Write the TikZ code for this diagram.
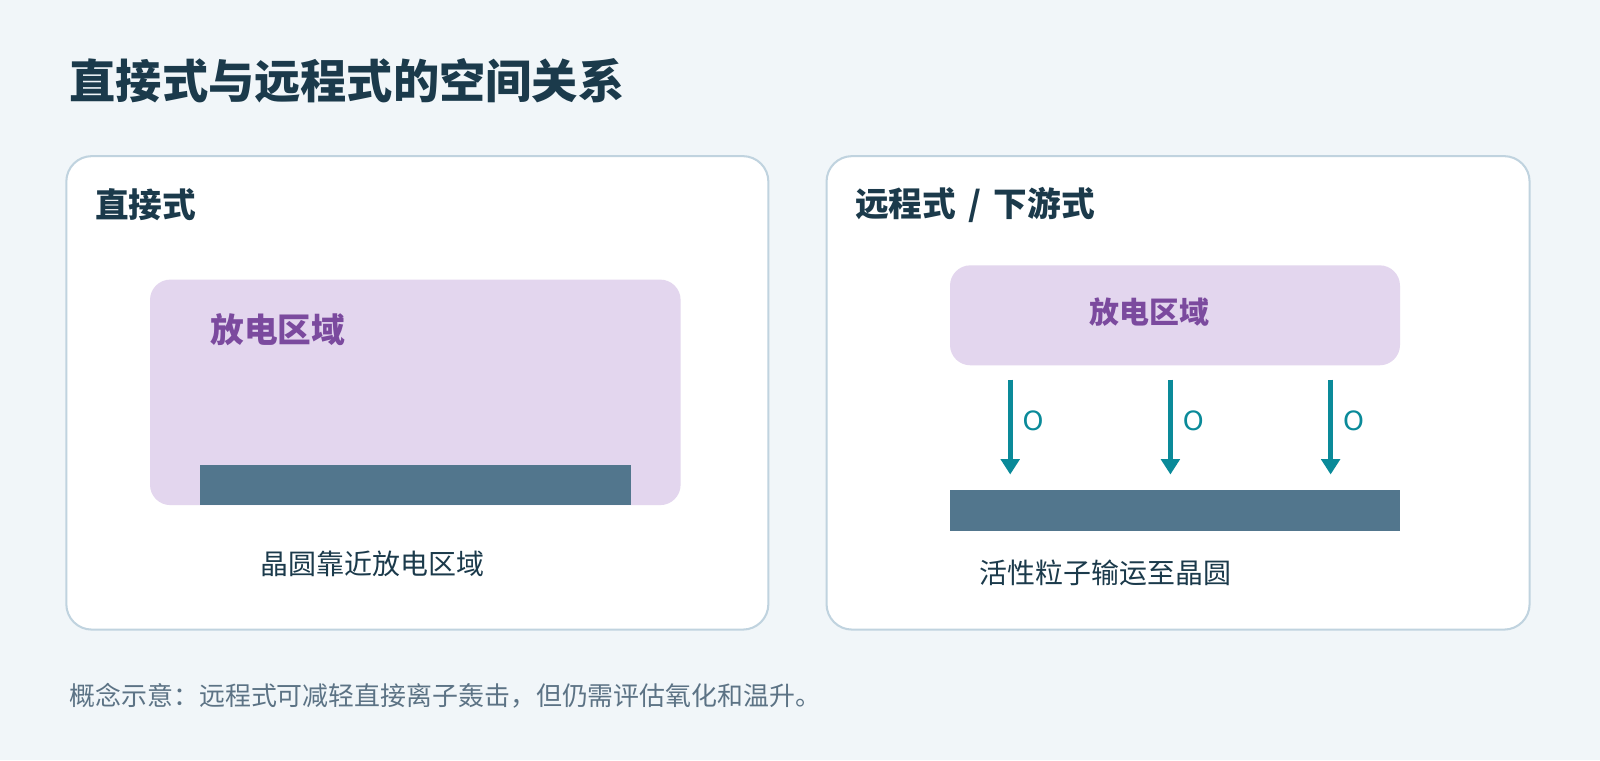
\documentclass[tikz,border=0pt]{standalone}
\usepackage{fontspec}
\setmainfont{Noto Sans CJK SC}
\newfontfamily\latinfont{DejaVu Sans}
\usetikzlibrary{arrows.meta}

\definecolor{pagebg}{HTML}{F1F6F9}
\definecolor{panelline}{HTML}{C0D3DF}
\definecolor{darktext}{HTML}{1B3A4B}
\definecolor{plasmafill}{HTML}{E3D6EE}
\definecolor{plasmatext}{HTML}{7B4A9E}
\definecolor{waferfill}{HTML}{52768D}
\definecolor{radteal}{HTML}{0A8A99}
\definecolor{notetext}{HTML}{5C7385}

\begin{document}
\begin{tikzpicture}[x=1pt,y=-1pt,
  panel/.style={draw=panelline,line width=2pt,fill=white,rounded corners=25pt,inner sep=0pt,outer sep=0pt},
  plasma/.style={fill=plasmafill,rounded corners=20pt,inner sep=0pt,outer sep=0pt},
  wafer/.style={fill=waferfill,inner sep=0pt,outer sep=0pt},
  lbl/.style={anchor=west,inner sep=0pt,text=darktext},
  oarrow/.style={draw=radteal,line width=5pt,-{Triangle[width=18pt,length=15pt]}}]
  \fill[pagebg] (0,0) rectangle (1568,745);
  \useasboundingbox (0,0) rectangle (1568,745);

  \path (68,79) node[lbl,font=\fontsize{45.3}{54}\selectfont\bfseries] (ntitle) {直接式与远程式的空间关系};

  % left panel
  \path (409,385) node[panel,minimum width=688pt,minimum height=464pt] (pleft) {};
  \path (93,201) node[lbl,font=\fontsize{33}{40}\selectfont\bfseries] (nleft) {直接式};
  \path (407,384.5) node[plasma,minimum width=520pt,minimum height=221pt] (plleft) {};
  \path (407,475.5) node[wafer,minimum width=422pt,minimum height=39pt] (wleft) {};
  \path (206,323) node[lbl,text=plasmatext,font=\fontsize{33}{40}\selectfont\bfseries] (nplleft) {放电区域};
  \path (255,553) node[lbl,font=\fontsize{27.4}{32}\selectfont] (ncapleft) {晶圆靠近放电区域};

  % right panel
  \path (1154.5,385) node[panel,minimum width=689pt,minimum height=464pt] (pright) {};
  \path (838,201) node[lbl,font=\fontsize{33}{40}\selectfont\bfseries] (nright) {远程式\hspace{12pt}/\hspace{12pt}下游式};
  \path (1151.5,309) node[plasma,minimum width=441pt,minimum height=98pt] (plright) {};
  \path (1126.5,306) node[inner sep=0pt,text=plasmatext,font=\fontsize{29.3}{35}\selectfont\bfseries] (nplright) {放电区域};
  \path (1151.5,500) node[wafer,minimum width=441pt,minimum height=40pt] (wright) {};
  \path (960,561) node[lbl,font=\fontsize{27.4}{32}\selectfont] (ncapright) {活性粒子输运至晶圆};

  % radicals
  \foreach \ax/\an in {990/1,1147/2,1304/3} {
    \coordinate (rs\an) at (\ax,372);
    \coordinate (re\an) at (\ax,465);
    \draw[oarrow] (rs\an) -- (re\an);
    \path (\ax+12,412) node[anchor=west,inner sep=0pt,text=radteal,font=\latinfont\fontsize{26}{30}\selectfont] (no\an) {O};
  }

  \path (68,682) node[lbl,text=notetext,font=\fontsize{25.4}{30}\selectfont] (nnote) {概念示意：远程式可减轻直接离子轰击，但仍需评估氧化和温升。};
\end{tikzpicture}
\end{document}
